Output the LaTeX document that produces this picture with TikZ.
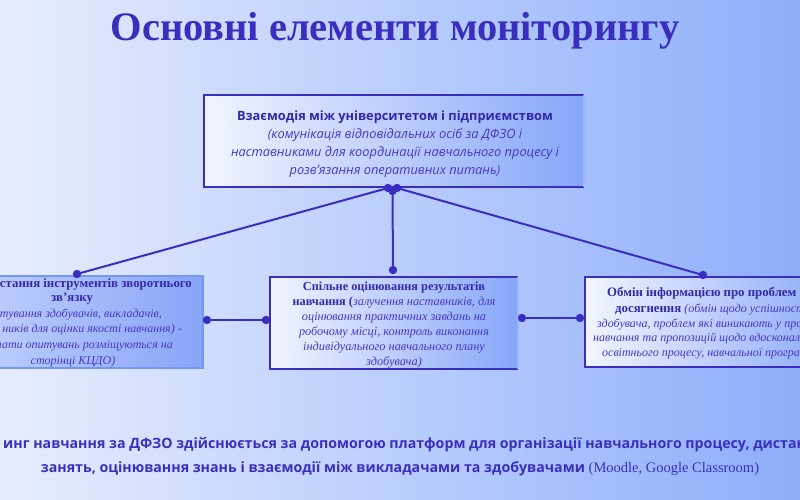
\documentclass[tikz,border=0pt]{standalone}
\usepackage{fontspec}
\setmainfont{Liberation Serif}
\newfontfamily\osans{Open Sans}
\definecolor{ink}{HTML}{3A2EBE}
\definecolor{inkb}{HTML}{3328A8}
\definecolor{inki}{HTML}{4637C4}
\definecolor{bgL}{HTML}{E6EDFD}
\definecolor{bgR}{HTML}{8EAEFB}
\definecolor{boxL}{HTML}{F2F5FF}
\definecolor{boxR}{HTML}{86A6F8}
\definecolor{edgeL}{HTML}{9AB6FF}
\definecolor{lboxL}{HTML}{C8D6FE}
\definecolor{lboxR}{HTML}{88A4F6}
\definecolor{lboxE}{HTML}{7398F0}
\tikzset{
  boxnode/.style={inner sep=0pt, outer sep=0pt},
  conn/.style={ink, line width=2pt},
  dot/.style={fill=ink},
  serifb/.style={font=\fontsize{12.8}{16}\selectfont\bfseries, text=inkb, inner sep=0pt},
  serifi/.style={font=\fontsize{12}{16}\selectfont\itshape, text=inki, inner sep=0pt},
}
\begin{document}
\begin{tikzpicture}[x=1pt,y=-1pt]
\useasboundingbox (0,0) rectangle (800,500);
\clip (0,0) rectangle (800,500);
\shade[left color=bgL, right color=bgR] (0,0) rectangle (800,500);

% title
\node[font=\fontsize{40.5}{44}\selectfont\bfseries, text=ink] (title) at (395,31) {Основні елементи моніторингу};

% top box
\node[boxnode, minimum width=380pt, minimum height=92pt, left color=boxL, right color=boxR] (top) at (394,141) {};
\draw[ink, line width=2pt] (top.north east) -- (top.north west) -- (top.south west) -- (top.south east);
\draw[edgeL, line width=2pt] (top.north east) -- (top.south east);
\node[align=center, font=\osans\fontsize{12.8}{18.2}\selectfont, inner sep=0pt] (toptext) at (395,144)
  {\textcolor{inkb}{\bfseries Взаємодія між університетом і підприємством}\\[0pt]
   \textcolor{inki}{\itshape (комунікація відповідальних осіб за ДФЗО і}\\
   \textcolor{inki}{\itshape наставниками для координації навчального процесу і}\\
   \textcolor{inki}{\itshape розв’язання оперативних питань)}};

% left box
\node[boxnode, minimum width=262pt, minimum height=92pt, left color=lboxL, right color=lboxR] (lbox) at (72,321.5) {};
\draw[lboxE, line width=2pt] (lbox.north west) rectangle (lbox.south east);
\node[serifb, anchor=east] (l1) at (192,284) {стання інструментів зворотнього};
\node[serifb] (l2) at (72,299) {зв’язку};
\node[serifi, anchor=east] (l3) at (162,314) {тування здобувачів, викладачів,};
\node[serifi, anchor=east] (l4) at (182,330) {ників для оцінки якості навчання) -};
\node[serifi, anchor=east] (l5) at (173,346) {тати опитувань розміщуються на};
\node[serifi] (l6) at (73,362) {сторінці КЦДО)};

% middle box
\node[boxnode, minimum width=248pt, minimum height=92pt, left color=boxL, right color=boxR] (mbox) at (394,323) {};
\draw[ink, line width=2pt] (mbox.north east) -- (mbox.north west) -- (mbox.south west) -- (mbox.south east);
\draw[edgeL, line width=2pt] (mbox.north east) -- (mbox.south east);
\node[align=center, inner sep=0pt, font=\fontsize{12.3}{15.1}\selectfont] (mtext) at (394,325)
  {\textcolor{inkb}{\bfseries Спільне оцінювання результатів}\\
   \textcolor{inkb}{\bfseries навчання (}\textcolor{inki}{\itshape залучення наставників, для}\\
   \textcolor{inki}{\itshape оцінювання практичних завдань на}\\
   \textcolor{inki}{\itshape робочому місці, контроль виконання}\\
   \textcolor{inki}{\itshape індивідуального навчального плану}\\
   \textcolor{inki}{\itshape здобувача)}};

% right box
\node[boxnode, minimum width=262pt, minimum height=90pt, left color=boxL, right color=boxR] (rbox) at (716,322) {};
\draw[ink, line width=2pt] (rbox.north west) rectangle (rbox.south east);
\node[serifb, anchor=west] (r1) at (607,293) {Обмін інформацією про проблем};
\node[anchor=west, inner sep=0pt, font=\fontsize{12.8}{16}\selectfont] (r2) at (615,309)
  {\textcolor{inkb}{\bfseries досягнення} \textcolor{inki}{\itshape\fontsize{12}{16}\selectfont (обмін щодо успішност}};
\node[serifi, anchor=west] (r3) at (597,324) {здобувача, проблем які виникають у про};
\node[serifi, anchor=west] (r4) at (593,339) {навчання та пропозицій щодо вдосконал};
\node[serifi, anchor=west] (r5) at (602,354) {освітнього процесу, навчальної програ};

% connectors
\coordinate (jl) at (388,188);
\coordinate (jr) at (397,188);
\coordinate (jm) at (392.5,191);
\coordinate (lt) at (77,274);
\coordinate (mt) at (393,270);
\coordinate (rt) at (703,275);
\coordinate (lr) at (207,320);
\coordinate (ml) at (266,320);
\coordinate (mr) at (522,318);
\coordinate (rl) at (580,318);
\draw[conn] (jl) -- (lt);
\draw[conn] (jm) -- (mt);
\draw[conn] (jr) -- (rt);
\draw[conn] (lr) -- (ml);
\draw[conn] (mr) -- (rl);
\foreach \p in {jl,jr,jm,lt,mt,rt,lr,ml,mr,rl} \fill[dot] (\p) circle (4.2);

% bottom text
\node[anchor=west, inner sep=0pt, font=\osans\bfseries\fontsize{14.2}{18}\selectfont, text=ink] (b1) at (3,445)
  {инг навчання за ДФЗО здійснюється за допомогою платформ для організації навчального процесу, дистан};
\node[inner sep=0pt, font=\osans\bfseries\fontsize{14.2}{18}\selectfont, text=ink] (b2) at (400,469)
  {занять, оцінювання знань і взаємодії між викладачами та здобувачами {\rmfamily\mdseries\fontsize{14.5}{18}\selectfont (Moodle, Google Classroom)}};
\end{tikzpicture}
\end{document}
